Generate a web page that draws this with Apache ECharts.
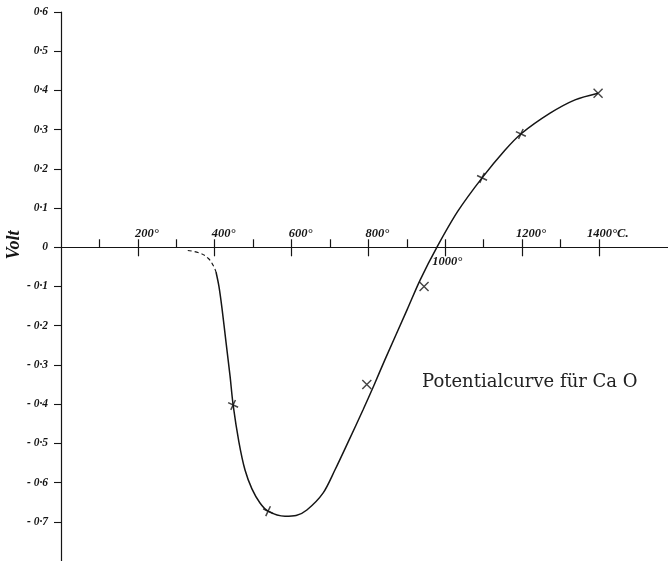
<!DOCTYPE html>
<html>
<head>
<meta charset="utf-8">
<script src="https://cdn.jsdelivr.net/npm/echarts@6/dist/echarts.min.js"></script>
<style>
html,body{margin:0;padding:0;background:#fff;}
#chart{width:668px;height:561px;}
</style>
</head>
<body>
<div id="chart"></div>
<script>
// Temperature (°C) / Volt values
const dashedT = [330, 362, 383, 396, 403.5];
const dashedV = [-0.008, -0.015, -0.028, -0.046, -0.063];

const curveT = [403.5, 411, 419, 429.5, 440, 448, 463, 479, 497, 518, 539, 583, 612, 640, 682, 713, 750, 786, 815, 843, 901, 935, 979, 1033, 1096, 1156, 1197, 1273, 1338, 1398];
const curveV = [-0.063, -0.099, -0.155, -0.242, -0.328, -0.402, -0.496, -0.568, -0.616, -0.652, -0.673, -0.686, -0.684, -0.670, -0.627, -0.568, -0.491, -0.415, -0.351, -0.287, -0.159, -0.083, 0.001, 0.092, 0.177, 0.248, 0.289, 0.342, 0.376, 0.393];

const plusT = [448, 539, 1096, 1197];
const plusV = [-0.402, -0.673, 0.177, 0.289];

const crossT = [796, 945, 1398];
const crossV = [-0.350, -0.100, 0.393];

const xMajorTicks = [200, 400, 600, 800, 1000, 1200, 1400];
const xAllTicks = [100, 200, 300, 400, 500, 600, 700, 800, 900, 1000, 1100, 1200, 1300, 1400];
const xLabelsAbove = [200, 400, 600, 800, 1200, 1400];
const xLabelsBelow = [1000];
const yTicks = [-0.7, -0.6, -0.5, -0.4, -0.3, -0.2, -0.1, 0, 0.1, 0.2, 0.3, 0.4, 0.5, 0.6];

const title = 'Potentialcurve für Ca O';
const yName = 'Volt';

const zip = (a, b) => a.map((v, i) => [v, b[i]]);

const ink = '#151515';
const X_MIN = 0, X_MAX = 1580, Y_MIN = -0.8, Y_MAX = 0.6;
const GRID_TOP = 12, GRID_H = 549;
// the temperature axis sits where Volt = 0
const AXIS_GRID_H = GRID_H * (Y_MAX - 0) / (Y_MAX - Y_MIN);

const labelFont = {
  fontFamily: 'Liberation Serif',
  fontStyle: 'italic',
  fontWeight: 'bold',
  fontSize: 12.5,
  color: ink
};

function xLabel(v) {
  v = Math.round(v);
  if (v === 1400) return '1400°C.';
  return v + '°';
}
function yLabel(v) {
  const r = Math.round(v * 10);
  if (r === 0) return '0';
  const s = '0·' + Math.abs(r);
  return r < 0 ? '- ' + s : s;
}

const chart = echarts.init(document.getElementById('chart'), null, {renderer: 'canvas'});
chart.setOption({
  backgroundColor: '#fff',
  animation: false,
  grid: [
    {left: 61, right: 0, top: GRID_TOP, height: GRID_H, containLabel: false, outerBoundsMode: 'none'},
    {left: 61, right: 0, top: GRID_TOP, height: AXIS_GRID_H, containLabel: false, outerBoundsMode: 'none'}
  ],
  xAxis: [
    {
      type: 'value', gridIndex: 0, min: X_MIN, max: X_MAX, show: false,
      axisLine: {onZero: false}, splitLine: {show: false}
    },
    {
      type: 'value', gridIndex: 1, min: X_MIN, max: X_MAX, position: 'bottom',
      axisLine: {show: true, onZero: false, lineStyle: {color: ink, width: 1.2}},
      axisTick: {show: true, inside: true, length: 8, customValues: xAllTicks, lineStyle: {color: ink, width: 1.2}},
      axisLabel: Object.assign({show: true, inside: true, margin: 7, customValues: xLabelsAbove, formatter: xLabel, padding: [0, 0, 0, 18]}, labelFont),
      splitLine: {show: false}
    },
    {
      type: 'value', gridIndex: 1, min: X_MIN, max: X_MAX, position: 'bottom',
      axisLine: {show: false, onZero: false},
      axisTick: {show: true, inside: false, length: 9, customValues: xMajorTicks, lineStyle: {color: ink, width: 1.2}},
      axisLabel: Object.assign({show: true, inside: false, margin: 8, customValues: xLabelsBelow, formatter: xLabel, padding: [0, 0, 0, 4]}, labelFont),
      splitLine: {show: false}
    }
  ],
  yAxis: [
    {
      type: 'value', gridIndex: 0, min: Y_MIN, max: Y_MAX, position: 'left',
      axisLine: {show: true, onZero: false, lineStyle: {color: ink, width: 1.2}},
      axisTick: {show: true, inside: false, length: 7, customValues: yTicks, lineStyle: {color: ink, width: 1.1}},
      axisLabel: Object.assign({show: true, margin: 13, customValues: yTicks, formatter: yLabel}, labelFont, {fontSize: 11.5}),
      splitLine: {show: false}
    },
    {
      type: 'value', gridIndex: 1, min: 0, max: Y_MAX, show: false,
      axisLine: {onZero: false}, splitLine: {show: false}
    }
  ],
  graphic: [
    {
      type: 'text', x: 14, y: 245, rotation: Math.PI / 2,
      style: {text: yName, fill: ink, font: 'italic bold 18px "Liberation Serif"', align: 'center', verticalAlign: 'middle'}
    },
    {
      type: 'text', x: 422, y: 382,
      style: {text: title, fill: '#222', font: '18px "DejaVu Serif"', align: 'left', verticalAlign: 'middle'}
    }
  ],
  series: [
    {
      type: 'line', xAxisIndex: 0, yAxisIndex: 0, data: zip(dashedT, dashedV), smooth: 0.4,
      showSymbol: false, lineStyle: {color: ink, width: 1.1, type: [4, 3]}
    },
    {
      type: 'line', xAxisIndex: 0, yAxisIndex: 0, data: zip(curveT, curveV), smooth: 0.3,
      showSymbol: false, lineStyle: {color: ink, width: 1.5}
    },
    {
      type: 'scatter', xAxisIndex: 0, yAxisIndex: 0, data: zip(plusT, plusV),
      symbol: 'path://M5 0 L5 10 M0 5 L10 5', symbolSize: 11, symbolRotate: -25,
      itemStyle: {color: 'rgba(0,0,0,0)', borderColor: ink, borderWidth: 1.5}
    },
    {
      type: 'scatter', xAxisIndex: 0, yAxisIndex: 0, data: zip(crossT, crossV),
      symbol: 'path://M0 0 L10 10 M10 0 L0 10', symbolSize: 9,
      itemStyle: {color: 'rgba(0,0,0,0)', borderColor: ink, borderWidth: 1.4}
    }
  ]
});
</script>
</body>
</html>
